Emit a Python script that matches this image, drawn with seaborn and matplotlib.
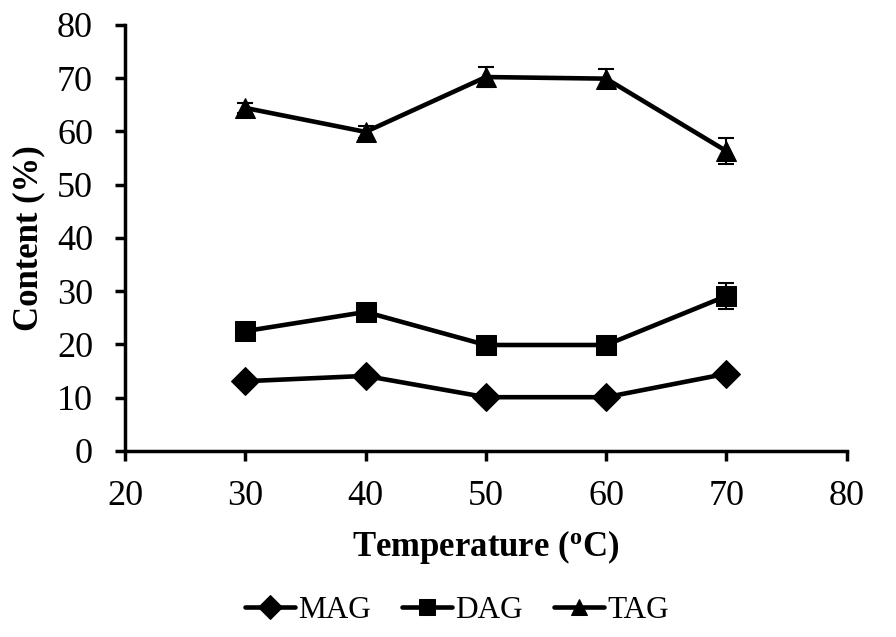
import numpy as np
import pandas as pd
import matplotlib
matplotlib.use("Agg")
import matplotlib.pyplot as plt
import seaborn as sns

# data
temperature = [30, 40, 50, 60, 70]
mag = [13.1, 14.1, 10.1, 10.1, 14.5]
dag = [22.5, 26.1, 19.9, 19.9, 29.1]
tag = [64.4, 59.9, 70.2, 69.9, 56.3]
mag_err = [0.3, 0.3, 0.2, 0.2, 0.4]
dag_err = [0.4, 0.4, 0.3, 0.3, 2.4]
tag_err = [1.0, 1.2, 1.8, 1.8, 2.5]

series_names = ["MAG", "DAG", "TAG"]

df = pd.DataFrame({
    "Temperature": temperature * 3,
    "Content": mag + dag + tag,
    "Series": [s for s in series_names for _ in temperature],
})

sns.set_style("white")
plt.rcParams["font.family"] = ["Liberation Serif", "DejaVu Serif"]
plt.rcParams["mathtext.fontset"] = "custom"
plt.rcParams["mathtext.rm"] = "Liberation Serif"
plt.rcParams["mathtext.bf"] = "Liberation Serif:bold"
plt.rcParams["text.color"] = "black"
plt.rcParams["axes.labelcolor"] = "black"

fig = plt.figure(figsize=(8.96, 6.37), dpi=100)
ax = fig.add_axes([0.1395, 0.292, 0.8055, 0.669])

# error bars first so lines sit on top
for vals, errs in zip([mag, dag, tag], [mag_err, dag_err, tag_err]):
    ax.errorbar(temperature, vals, yerr=errs, fmt="none", ecolor="black",
                elinewidth=1.5, capsize=6, capthick=1.5, zorder=2)

sns.lineplot(data=df, x="Temperature", y="Content", hue="Series", style="Series",
             palette=["black"] * 3, markers={"MAG": "D", "DAG": "s", "TAG": "^"},
             dashes=False, linewidth=3.3, markersize=14, markeredgecolor="black",
             ax=ax, zorder=3, legend=True)

ax.set_xlim(20, 80)
ax.set_ylim(0, 80)
ax.set_xticks(np.arange(20, 81, 10))
ax.set_yticks(np.arange(0, 81, 10))
ax.tick_params(axis="both", labelsize=26, direction="out", length=7, width=2.5,
               colors="black", bottom=True, left=True)
ax.tick_params(axis="x", pad=14)
ax.tick_params(axis="y", pad=16)

for side in ["top", "right"]:
    ax.spines[side].set_visible(False)
for side in ["left", "bottom"]:
    ax.spines[side].set_linewidth(2.5)
    ax.spines[side].set_color("black")

ax.set_xlabel(r"Temperature ($\mathbf{^o}$C)", fontsize=25, fontweight="bold", labelpad=11)
ax.set_ylabel("Content (%)", fontsize=25, fontweight="bold", labelpad=8)

handles, labels = ax.get_legend_handles_labels()
ax.legend_.remove()
fig.legend(handles, labels, loc="center", bbox_to_anchor=(0.51, 0.042), ncol=3,
           frameon=False, fontsize=22.5, handlelength=1.6, handletextpad=0.1,
           columnspacing=1.0, markerscale=0.85)

fig.savefig("out.png", dpi=100)
